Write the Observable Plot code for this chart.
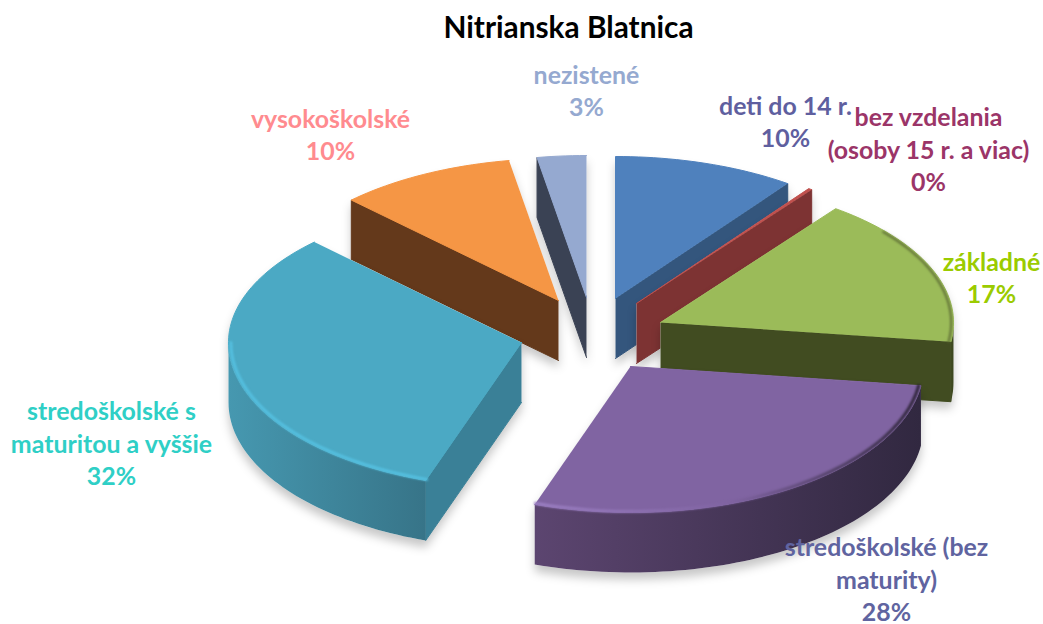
<!DOCTYPE html>
<html><head><meta charset="utf-8">
<style>html,body{margin:0;padding:0;background:#fff}svg{display:block}</style>
<script src="https://cdn.jsdelivr.net/npm/d3@7"></script>
<script src="https://cdn.jsdelivr.net/npm/@observablehq/plot@0.6"></script>
</head><body><script>
const title = "Nitrianska Blatnica";
const categories = ["deti do 14 r.","bez vzdelania\n(osoby 15 r. a viac)","základné","stredoškolské (bez\nmaturity)","stredoškolské s\nmaturitou a vyššie","vysokoškolské","nezistené"];
const shares = [10.0,0.2,16.9,28.2,32.2,9.8,2.7];

// styling and layout, separate from the data
const topColors  = ["#4f81bd","#c0504d","#9bbb59","#8064a2","#4ba9c4","#f59645","#95a9d0"];
const faceColors = ["#34567d","#7d3333","#414c21","#5a4068","#3a8097","#64391b","#3a4254"];
const bandStops  = [["#34567d","#34567d"],["#7d3333","#7d3333"],["#414c21","#3b4620"],["#5c4570","#312840"],["#4698b0","#377488"],["#64391b","#64391b"],["#3a4254","#3a4254"]];
const labelColors= ["#5f5f9f","#9b3568","#9bcb00","#6064a0","#2fcfc6","#ff8b8f","#95a9d0"];
const rimColors  = [null,null,"#5f6e36",["#9c80c4","#8064a2","#2d2438"],"#55c0e0",null,null];
const rimWidths  = [0,0,2,3,3,0,0];
const rimFrom    = [0,0,50,0,0,0,0];
const apexX = [615,636,660,630,521,558,586];
const apexY = [298,303,322,366,342,300,297];
const labelX = [785,928,991,886,111,330,586];
const labelY = [120,148,276,578,442,133,89];
const drawOrder = [6,0,1,2,5,4,3];
const rx = 293, ryBack = 142, ryFront = 146, depth = 60;

const rad = d => d * Math.PI / 180;
const pies = d3.pie().sort(null).startAngle(0).endAngle(2*Math.PI)(shares);
const at = (i, a, dz=0, k=1) => {
  const c = Math.cos(a);
  return {x: apexX[i] + k*rx*Math.sin(a), y: apexY[i] - k*(c > 0 ? ryBack : ryFront)*c + dz};
};
const arc = (i, a0, a1, dz=0, k=1) => {
  const n = Math.max(2, Math.ceil((a1-a0)/rad(1.5)));
  return d3.range(n+1).map(j => at(i, a0+(a1-a0)*j/n, dz, k));
};
const poly = (pts, fill, extra={}) => Plot.line(pts, {x:"x", y:"y", fill, stroke:"none", ...extra});

const defs = () => {
  const ns = "http://www.w3.org/2000/svg";
  const d = document.createElementNS(ns,"defs");
  const grad = (id, cs) => {
    const g = document.createElementNS(ns,"linearGradient");
    g.setAttribute("id",id);
    cs.forEach((c,j) => {
      const s = document.createElementNS(ns,"stop");
      s.setAttribute("offset",j/(cs.length-1)); s.setAttribute("stop-color",c); g.appendChild(s);
    });
    d.appendChild(g);
  };
  bandStops.forEach((cs,i) => grad("band"+i, cs));
  rimColors.forEach((c,i) => { if (Array.isArray(c)) grad("rim"+i, c); });
  return d;
};

const marks = [defs];
for (const i of drawOrder) {
  const a0 = pies[i].startAngle, a1 = pies[i].endAngle;
  const tip = {x:apexX[i], y:apexY[i]}, low = {x:apexX[i], y:apexY[i]+depth};
  const top = [tip, ...arc(i,a0,a1)];
  const hull = d3.polygonHull([...top, ...top.map(p => ({x:p.x,y:p.y+depth}))].map(p => [p.x,p.y])).map(([x,y]) => ({x,y}));
  marks.push(poly(hull, "#fff", {imageFilter:"drop-shadow(0px 7px 5px rgba(0,0,0,.22))"}));
  const face = a => [tip, at(i,a), at(i,a,depth), low];
  if (a1 < Math.PI) marks.push(poly(face(a1), faceColors[i], {stroke:faceColors[i], strokeWidth:1, strokeLinejoin:"round"}));
  if (a0 > Math.PI) marks.push(poly(face(a0), faceColors[i], {stroke:faceColors[i], strokeWidth:1, strokeLinejoin:"round"}));
  const b0 = Math.max(a0, Math.PI/2), b1 = Math.min(a1, 3*Math.PI/2);
  if (b1 > b0) {
    const upper = arc(i,b0,b1), lower = arc(i,b0,b1,depth).reverse();
    marks.push(poly([...upper,...lower], `url(#band${i})`));
  }
  marks.push(poly(top, topColors[i], {stroke:topColors[i], strokeWidth:1, strokeLinejoin:"round"}));
  if (rimColors[i]) {
    const c = rimColors[i];
    const r0 = rimFrom[i] ? rad(rimFrom[i]) : b0;
    marks.push(Plot.line(arc(i,r0,b1,0,0.992), {x:"x", y:"y", stroke: Array.isArray(c) ? `url(#rim${i})` : c, strokeWidth:rimWidths[i], imageFilter:"blur(1px)"}));
  }
}

const textBase = {x:"x", y:"y", text:"t", fontFamily:"Lato, sans-serif", fontWeight:"bold", fontSize:24.9, lineHeight:1.305, textAnchor:"middle", lineAnchor:"middle"};
const labelRows = categories.map((c,i) => ({x:labelX[i], y:labelY[i], t:`${c}\n${Math.round(shares[i])}%`, c:labelColors[i]}));
labelRows.forEach(r => marks.push(Plot.text([r], {...textBase, fill:r.c})));
marks.push(Plot.text([{x:568,y:25,t:title}], {...textBase, fontSize:29.8, fill:"#000"}));

document.body.append(Plot.plot({
  width:1043, height:624, margin:0,
  x:{domain:[0,1043], range:[0,1043], axis:null},
  y:{domain:[0,624], range:[0,624], axis:null},
  marks
}));
</script></body></html>
